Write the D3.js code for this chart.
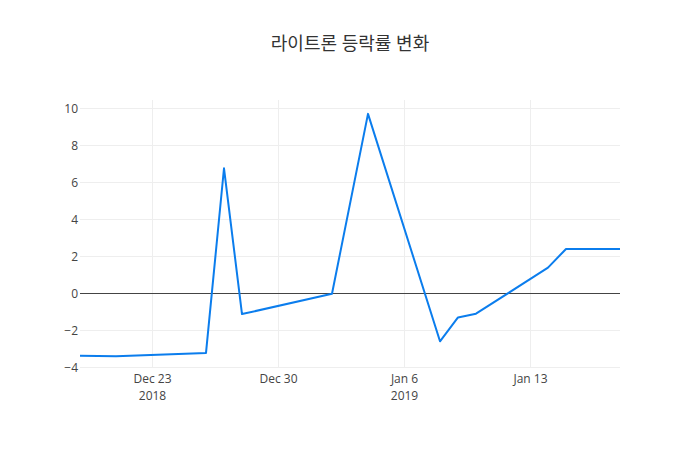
<!DOCTYPE html>
<html><head><meta charset="utf-8">
<script src="https://cdn.jsdelivr.net/npm/d3@7"></script>
<style>body{margin:0;background:#fff}svg{display:block}text{font-family:"Open Sans","Noto Sans CJK KR",sans-serif}</style>
</head><body><svg id="c" width="700" height="450"></svg>
<script>
const dates = ["2018-12-19","2018-12-21","2018-12-26","2018-12-27","2018-12-28","2019-01-02","2019-01-04","2019-01-08","2019-01-09","2019-01-10","2019-01-14","2019-01-15","2019-01-18"];
const values = [-3.39,-3.42,-3.24,6.74,-1.14,-0.04,9.68,-2.61,-1.32,-1.12,1.37,2.38,2.38];
const yTicks = [-4,-2,0,2,4,6,8,10];
const xTickDates = ["2018-12-23","2018-12-30","2019-01-06","2019-01-13"];
const xTickLabels = ["Dec 23","Dec 30","Jan 6","Jan 13"];
const xYearLabels = ["2018","","2019",""];
const title = "라이트론 등락률 변화";

const parse = d3.timeParse("%Y-%m-%d");
const data = dates.map((d,i)=>({x:parse(d),y:values[i]}));
const m = {l:80, r:80, t:100, b:83};
const W=700,H=450;
const svg = d3.select("#c");
const x = d3.scaleTime().domain([parse(dates[0]), parse(dates[dates.length-1])]).range([m.l, W-m.r]);
const y = d3.scaleLinear().domain([-4, 10.43]).range([H-m.b, m.t]);

// grid
const g = svg.append("g");
g.selectAll(".hy").data(yTicks.filter(v=>v!==0)).join("line")
  .attr("x1",m.l).attr("x2",W-m.r).attr("y1",d=>Math.round(y(d))+0.5).attr("y2",d=>Math.round(y(d))+0.5)
  .attr("stroke","#eee").attr("stroke-width",1);
g.selectAll(".vx").data(xTickDates).join("line")
  .attr("x1",d=>Math.round(x(parse(d)))+0.5).attr("x2",d=>Math.round(x(parse(d)))+0.5).attr("y1",m.t).attr("y2",H-m.b)
  .attr("stroke","#eee").attr("stroke-width",1);
// zero line
g.append("line").attr("x1",m.l).attr("x2",W-m.r).attr("y1",Math.round(y(0))+0.5).attr("y2",Math.round(y(0))+0.5)
  .attr("stroke","#444").attr("stroke-width",1);

// y axis labels
const ya = d3.axisLeft(y).tickValues(yTicks).tickSize(0).tickPadding(0).tickFormat(d=>d<0?"\u2212"+Math.abs(d):d);
svg.append("g").attr("transform",`translate(${m.l-2},0)`).call(ya)
  .call(s=>s.select(".domain").remove())
  .call(s=>s.selectAll("text").attr("fill","#444").attr("font-size",12).attr("dy","0.35em").attr("text-anchor","end"));

// x axis labels
const xa = d3.axisBottom(x).tickValues(xTickDates.map(parse)).tickSize(0).tickPadding(0).tickFormat((d,i)=>xTickLabels[i]);
const xg = svg.append("g").attr("transform",`translate(0,${H-m.b})`).call(xa);
xg.select(".domain").remove();
xg.selectAll(".tick text").attr("dy",null).attr("y",16).attr("fill","#444").attr("font-size",12).attr("text-anchor","middle");
xg.selectAll(".tick").each(function(d,i){
  if(xYearLabels[i]) d3.select(this).append("text").attr("x",0).attr("y",33)
    .attr("fill","#444").attr("font-size",12).attr("text-anchor","middle").text(xYearLabels[i]);
});

// line
const line = d3.line().x(d=>x(d.x)).y(d=>y(d.y));
svg.append("path").datum(data).attr("d",line).attr("fill","none")
  .attr("stroke","#0b7ded").attr("stroke-width",2).attr("stroke-linejoin","round");

// title
svg.append("text").attr("x",W/2).attr("y",50).attr("text-anchor","middle")
  .attr("font-size",18).attr("fill","#333").attr("font-family","'Noto Sans CJK KR','Open Sans',sans-serif").text(title);
</script></body></html>
